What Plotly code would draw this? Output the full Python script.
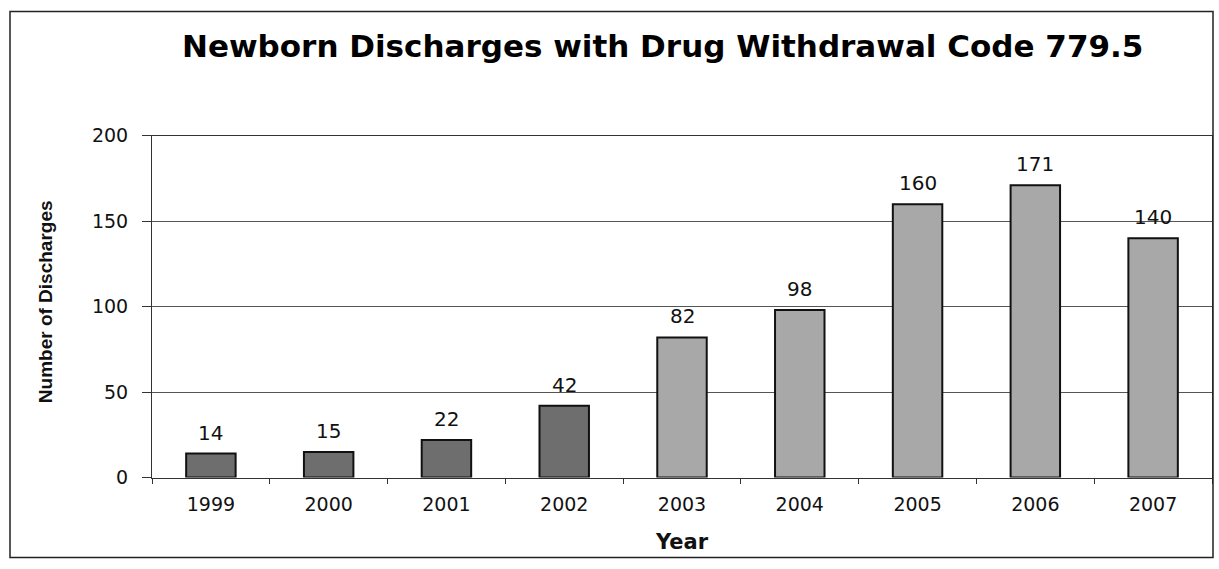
import plotly.graph_objects as go

years = ["1999", "2000", "2001", "2002", "2003", "2004", "2005", "2006", "2007"]
discharges = [14, 15, 22, 42, 82, 98, 160, 171, 140]
bar_colors = ["#6e6e6e"] * 4 + ["#a8a8a8"] * 5
y_ticks = [0, 50, 100, 150, 200]

W, H = 1219, 569
# empirical vertical correction for how the page is photographed
def py(v):
    v = (v - 9.7) / 0.965
    v = min(max(v, 0.5), H - 0.5)
    return 1 - v / H

def px(v):
    return v / W

fig = go.Figure(go.Bar(
    x=years, y=discharges,
    marker=dict(color=bar_colors, line=dict(color="#111111", width=2)),
    width=0.42,
))

# value labels: category index on the x axis, value on the y axis
label_annotations = [
    dict(x=i, y=val, xref="x", yref="y", text=str(val), showarrow=False,
         xanchor="center", yanchor="bottom", yshift=7,
         font=dict(family="DejaVu Sans", size=20, color="#111"))
    for i, val in enumerate(discharges)
]

fig.update_layout(
    width=W, height=H,
    margin=dict(l=0, r=0, t=0, b=0),
    paper_bgcolor="white", plot_bgcolor="white",
    showlegend=False,
    xaxis=dict(
        type="category",
        categoryorder="array", categoryarray=years,
        domain=[px(152), px(1212)],
        showgrid=False,
        ticks="outside", tickson="boundaries", ticklen=5, tickcolor="#333",
        showline=True, linecolor="#333", linewidth=1, mirror=True,
        tickfont=dict(family="DejaVu Sans", size=19, color="#111"),
        tickangle=0,
        ticklabelstandoff=10,
    ),
    yaxis=dict(
        domain=[py(478), py(135)],
        range=[0, 200],
        tickvals=y_ticks,
        showgrid=True, gridcolor="#555", gridwidth=1,
        ticks="outside", ticklen=9, tickcolor="#333",
        showline=True, linecolor="#333", linewidth=1, mirror=True,
        zeroline=False,
        tickfont=dict(family="DejaVu Sans", size=19, color="#111"),
        ticklabelstandoff=10,
    ),
    shapes=[dict(type="rect", xref="paper", yref="paper",
                 x0=px(10), x1=px(1213), y0=py(567), y1=py(7),
                 line=dict(color="#222", width=1.5))],
    annotations=label_annotations + [
        dict(text="<b>Newborn Discharges with Drug Withdrawal Code 779.5</b>",
             xref="paper", yref="paper", x=px(662), y=py(45),
             xanchor="center", yanchor="middle", showarrow=False,
             font=dict(family="DejaVu Sans", size=31, color="#000")),
        dict(text="<b>Year</b>",
             xref="paper", yref="paper", x=px(682), y=py(543),
             xanchor="center", yanchor="middle", showarrow=False,
             font=dict(family="DejaVu Sans", size=21, color="#111")),
        dict(text="<b>Number of Discharges</b>",
             xref="paper", yref="paper", x=px(45), y=py(302),
             xanchor="center", yanchor="middle", showarrow=False, textangle=-90,
             font=dict(family="Liberation Sans Narrow, Liberation Sans", size=19, color="#111")),
    ],
)

fig.write_html("out.html")
